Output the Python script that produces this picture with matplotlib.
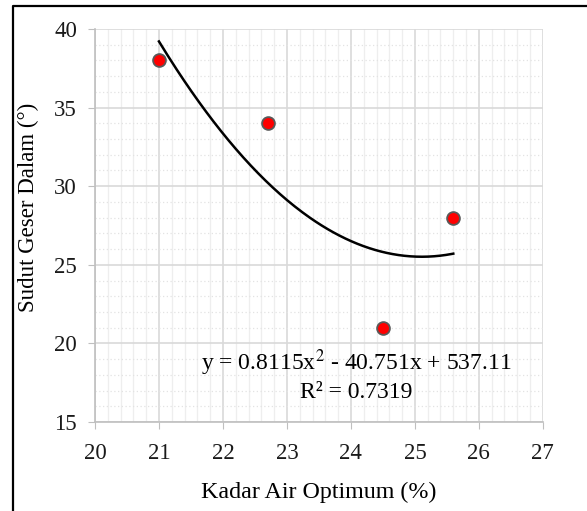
import matplotlib

matplotlib.use("Agg")
import matplotlib.pyplot as plt
from matplotlib.lines import Line2D
from matplotlib.ticker import MultipleLocator
import numpy as np

plt.rcParams["font.family"] = ["Liberation Serif", "DejaVu Serif"]
plt.rcParams["mathtext.fontset"] = "stix"

kadar_air = [21.0, 22.7, 24.5, 25.6]
sudut_geser = [38, 34, 21, 28]
coef = [0.8115, -40.751, 537.11]
r2 = 0.7319

fig = plt.figure(figsize=(5.87, 5.11), dpi=100)
ax = fig.add_axes([0.1618, 0.1742, 0.763, 0.769])

# outer chart frame, cut off at the right and bottom edges
fig.lines.append(Line2D([0.022, 0.022, 1.0], [0.0, 0.988, 0.988],
                        transform=fig.transFigure, color="black",
                        linewidth=1.6))

xs = np.linspace(min(kadar_air), max(kadar_air), 200)
ax.plot(xs, np.polyval(coef, xs), color="black", linewidth=1.8, zorder=3)
ax.scatter(kadar_air, sudut_geser, s=85, color="#ff0000",
           edgecolors="#595959", linewidths=1.3, zorder=4)

ax.set_xlim(20, 27)
ax.set_ylim(15, 40)
ax.xaxis.set_major_locator(MultipleLocator(1))
ax.xaxis.set_minor_locator(MultipleLocator(0.2))
ax.yaxis.set_major_locator(MultipleLocator(5))
ax.yaxis.set_minor_locator(MultipleLocator(1))

ax.grid(which="major", color="#d9d9d9", linewidth=1.2, zorder=0)
ax.grid(which="minor", axis="x", color="#eeeeee", linewidth=0.9, zorder=0)
ax.grid(which="minor", axis="y", color="#e3e3e3", linewidth=0.9,
        linestyle=(0, (1, 2)), zorder=0)
ax.set_axisbelow(True)

for side in ["top", "right"]:
    ax.spines[side].set_visible(False)
for side in ["left", "bottom"]:
    ax.spines[side].set_color("#bfbfbf")
    ax.spines[side].set_linewidth(1.2)

ax.tick_params(which="major", length=5, color="#bfbfbf", labelsize=16.5,
               labelcolor="#1a1a1a", pad=8)
ax.tick_params(axis="x", which="major", pad=10)
ax.tick_params(which="minor", length=0)

ax.set_xlabel("Kadar Air Optimum (%)", fontsize=17.3, labelpad=13)
ax.set_ylabel("Sudut Geser Dalam (°)", fontsize=16.5)
ax.yaxis.set_label_coords(-0.125, 0.547)

ax.text(24.09, 18.75, "y = 0.8115x$^{2}$ - 40.751x + 537.11", fontsize=17,
        ha="center", va="center", zorder=5)
ax.text(24.09, 16.9, f"R² = {r2}", fontsize=17, ha="center", va="center",
        zorder=5)

fig.savefig("out.png", dpi=100)
